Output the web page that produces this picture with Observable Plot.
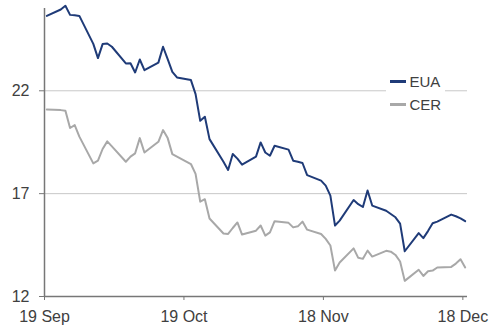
<!DOCTYPE html>
<html><head><meta charset="utf-8">
<script src="https://cdn.jsdelivr.net/npm/d3@7"></script>
<script src="https://cdn.jsdelivr.net/npm/@observablehq/plot@0.6"></script>
<style>
body{margin:0;background:#fff;font-family:"Liberation Sans",Arial,Helvetica,sans-serif;}
#wrap{position:relative;width:493px;height:325px;}
#legend{position:absolute;left:386px;top:70px;width:59px;background:#fff;font-size:15px;color:#404040;}
#legend .row{display:flex;align-items:center;height:23px;}
#legend .sw{width:16px;height:2.5px;margin-left:4px;margin-right:3.5px;}
</style></head><body><div id="wrap"><div id="legend"></div></div>
<script>
const dates = [
"2008-09-19","2008-09-22","2008-09-23","2008-09-24","2008-09-25","2008-09-26","2008-09-29","2008-09-30",
"2008-10-01","2008-10-02","2008-10-03","2008-10-06","2008-10-07","2008-10-08","2008-10-09","2008-10-10",
"2008-10-13","2008-10-14","2008-10-15","2008-10-16","2008-10-17","2008-10-20","2008-10-21","2008-10-22",
"2008-10-23","2008-10-24","2008-10-27","2008-10-28","2008-10-29","2008-10-30","2008-10-31",
"2008-11-03","2008-11-04","2008-11-05","2008-11-06","2008-11-07","2008-11-10","2008-11-11","2008-11-12",
"2008-11-13","2008-11-14","2008-11-17","2008-11-18","2008-11-19","2008-11-20","2008-11-21","2008-11-24",
"2008-11-25","2008-11-26","2008-11-27","2008-11-28",
"2008-12-01","2008-12-02","2008-12-03","2008-12-04","2008-12-05","2008-12-08","2008-12-09","2008-12-10",
"2008-12-11","2008-12-12","2008-12-15","2008-12-16","2008-12-17","2008-12-18"];
const eua = [
25.64,25.95,26.13,25.69,25.67,25.64,24.28,23.59,
24.27,24.30,24.14,23.33,23.34,22.89,23.52,23.00,23.37,24.14,23.54,22.92,22.65,22.52,21.84,20.54,20.74,19.65,18.55,18.15,18.93,18.70,18.41,
18.80,19.49,19.00,18.84,19.33,19.14,18.60,18.55,18.49,17.90,17.63,17.39,16.90,15.45,15.69,16.69,16.49,16.35,17.15,16.42,
16.17,16.01,15.85,15.54,14.20,15.08,14.84,15.18,15.56,15.64,15.98,15.90,15.80,15.66];
const cer = [
21.09,21.06,21.03,20.19,20.33,19.77,18.47,18.60,
19.17,19.54,19.30,18.55,18.80,18.96,19.70,19.00,19.52,20.09,19.70,18.92,18.80,18.44,17.96,16.61,16.73,15.79,15.06,15.04,15.33,15.60,15.01,
15.20,15.45,14.96,15.12,15.66,15.58,15.36,15.41,15.64,15.25,15.04,14.80,14.48,13.26,13.65,14.34,13.88,13.83,14.23,13.94,
14.22,14.18,14.02,13.70,12.76,13.30,13.00,13.23,13.26,13.41,13.44,13.60,13.81,13.41];
const seriesNames = ["EUA","CER"];
const seriesColors = ["#1f3b78","#a8a8a8"];
const xTickDates = ["2008-09-19","2008-10-19","2008-11-18","2008-12-18"];
const xTickLabels = ["19 Sep","19 Oct","18 Nov","18 Dec"];
const yTicks = [12,17,22];
const yDomain = [12,26];
const xDomain = ["2008-09-19","2008-12-19"];

const toDate = s => new Date(s + "T00:00:00Z");
const toNoon = s => new Date(s + "T12:00:00Z");
const euaRows = dates.map((d,i) => ({date: toNoon(d), value: eua[i]}));
const cerRows = dates.map((d,i) => ({date: toNoon(d), value: cer[i]}));
const xTicks = xTickDates.map(toDate);

const chart = Plot.plot({
  width: 493, height: 325,
  marginLeft: 44, marginRight: 26, marginTop: 8, marginBottom: 29,
  style: {fontFamily: '"Liberation Sans", Arial, sans-serif', background: "#fff"},
  x: {type: "utc", domain: xDomain.map(toDate)},
  y: {domain: yDomain},
  marks: [
    Plot.gridY(yTicks.filter(t => t !== yDomain[0]), {stroke: "#c8c8c8", strokeOpacity: 1, strokeWidth: 1}),
    Plot.line(cerRows, {x: "date", y: "value", stroke: seriesColors[1], strokeWidth: 2}),
    Plot.line(euaRows, {x: "date", y: "value", stroke: seriesColors[0], strokeWidth: 2}),
    Plot.ruleX([toDate(xDomain[0])], {stroke: "#777", strokeWidth: 1.5}),
    Plot.ruleY([yDomain[0]], {stroke: "#777", strokeWidth: 1.5}),
    Plot.axisY({ticks: yTicks, tickSize: 5, tickPadding: 10, fontSize: 16, stroke: "#777", color: "#404040", label: null}),
    Plot.axisX({ticks: xTicks, tickSize: 4, tickPadding: 10, fontSize: 16, stroke: "#777", color: "#404040", label: null,
      tickFormat: (d) => xTickLabels[xTicks.findIndex(t => +t === +d)]})
  ]
});
const wrap = document.getElementById("wrap");
wrap.insertBefore(chart, wrap.firstChild);

const legend = document.getElementById("legend");
seriesNames.forEach((name, i) => {
  const row = document.createElement("div");
  row.className = "row";
  const sw = document.createElement("span");
  sw.className = "sw";
  sw.style.background = seriesColors[i];
  const tx = document.createElement("span");
  tx.textContent = name;
  row.appendChild(sw); row.appendChild(tx);
  legend.appendChild(row);
});
</script>
</body></html>
